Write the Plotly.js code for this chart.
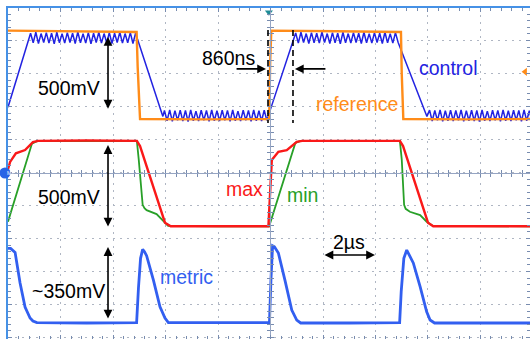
<!DOCTYPE html>
<html><head><meta charset="utf-8">
<script src="https://cdn.plot.ly/plotly-3.0.1.min.js"></script>
<style>html,body{margin:0;padding:0;background:#fff}#chart{width:530px;height:339px}</style>
</head><body><div id="chart"></div>
<script>
// time in microseconds (2 us / division), value in divisions
const controlT = [0, 0.76,
 0.86,0.96,1.06,1.16,1.26,1.36,1.46,1.56,1.66,1.76,1.86,1.96,2.06,2.16,2.26,2.36,2.46,2.56,2.66,2.76,
 2.86,2.96,3.06,3.16,3.26,3.36,3.46,3.56,3.66,3.76,3.86,3.96,4.06,4.16,4.26,4.36,4.46,4.56,4.66,4.76,4.86,
 5.90,
 5.96,6.06,6.16,6.26,6.36,6.46,6.56,6.66,6.76,6.86,6.96,7.06,7.16,7.26,7.36,7.46,7.56,7.66,7.76,7.86,
 7.96,8.06,8.16,8.26,8.36,8.46,8.56,8.66,8.76,8.86,8.96,9.06,9.16,9.26,9.36,9.46,9.56,9.66,9.76,9.86,
 10.86,
 10.96,11.06,11.16,11.26,11.36,11.46,11.56,11.66,11.76,11.86,11.96,12.06,12.16,12.26,12.36,12.46,12.56,12.66,12.76,12.86,
 12.96,13.06,13.16,13.26,13.36,13.46,13.56,13.66,13.76,13.86,13.96,14.06,14.16,14.26,14.36,14.46,14.56,14.66,14.76,14.86,
 15.96,
 16.06,16.16,16.26,16.36,16.46,16.56,16.66,16.76,16.86,16.96,17.06,17.16,17.26,17.36,17.46,17.56,17.66,17.76,17.86,17.96,
 18.06,18.16,18.26,18.36,18.46,18.56,18.66,18.76,18.86,18.96,19.06,19.16,19.26,19.36,19.46,19.56,19.66,19.76,19.86,19.96];
const controlV = [1.98, 3.93,
 4.22,3.93,4.25,3.91,4.21,3.94,4.24,3.92,4.22,3.90,4.25,3.93,4.21,3.92,4.24,3.94,4.22,3.91,4.26,3.93,
 4.21,3.92,4.24,3.90,4.22,3.94,4.25,3.92,4.21,3.93,4.24,3.91,4.22,3.94,4.25,3.92,4.21,3.93,4.24,3.91,4.22,
 1.70,
 1.88,1.57,1.90,1.55,1.87,1.58,1.89,1.56,1.88,1.54,1.90,1.57,1.86,1.56,1.89,1.58,1.88,1.55,1.90,1.57,
 1.87,1.56,1.89,1.58,1.88,1.55,1.90,1.57,1.86,1.56,1.89,1.58,1.88,1.55,1.90,1.57,1.87,1.56,1.89,1.58,
 3.93,
 4.23,3.92,4.25,3.94,4.21,3.91,4.24,3.93,4.22,3.92,4.26,3.94,4.21,3.91,4.24,3.93,4.22,3.90,4.25,3.93,
 4.21,3.92,4.24,3.94,4.22,3.91,4.25,3.93,4.21,3.92,4.24,3.94,4.22,3.91,4.25,3.93,4.21,3.92,4.24,3.95,
 1.70,
 1.89,1.56,1.88,1.58,1.90,1.55,1.87,1.57,1.89,1.56,1.88,1.58,1.90,1.55,1.87,1.57,1.89,1.56,1.88,1.54,
 1.90,1.57,1.86,1.56,1.89,1.58,1.88,1.55,1.90,1.57,1.87,1.56,1.89,1.58,1.88,1.55,1.90,1.57,1.87,1.56];

const referenceT = [0, 2.5, 4.90, 4.94, 5.03, 7.5, 9.95, 9.99, 10.03, 12.5, 14.97, 15.00, 15.06, 17.5, 19.95];
const referenceV = [4.30, 4.28, 4.26, 3.20, 1.62, 1.61, 1.62, 3.40, 4.30, 4.28, 4.26, 3.00, 1.62, 1.61, 1.62];

const maxT = [0, 0.08, 0.3, 0.65, 0.95, 1.15, 3.0, 4.91, 5.03, 5.98, 6.2, 8.0, 9.92, 10.05, 10.3, 10.62, 11.0, 11.2, 13.0, 14.93, 15.05, 16.0, 16.2, 18.0, 19.95];
const maxV = [0.10, 0.32, 0.58, 0.68, 0.92, 0.96, 0.97, 0.96, 0.80, -1.52, -1.63, -1.64, -1.63, 0.38, 0.63, 0.68, 0.93, 0.96, 0.97, 0.96, 0.80, -1.52, -1.63, -1.64, -1.63];

const minT = [0, 0.91, 1.1, 3.0, 4.91, 4.98, 5.13, 5.2, 5.28, 5.66, 5.92, 6.1, 8.0, 9.95, 10.95, 11.15, 13.0, 14.93, 15.0, 15.09, 15.15, 15.31, 15.7, 15.95, 16.19, 18.0, 19.95];
const minV = [-1.49, 0.87, 0.95, 0.96, 0.95, 0.40, -0.98, -1.08, -1.14, -1.26, -1.49, -1.62, -1.63, -1.63, 0.90, 0.96, 0.96, 0.95, 0.40, -0.98, -1.10, -1.19, -1.29, -1.49, -1.62, -1.63, -1.63];

const metricT = [0, 0.1, 0.27, 0.46, 0.65, 0.84, 0.95, 1.1, 3.0, 4.90, 4.97, 5.05, 5.13, 5.2, 5.28, 5.54, 5.79, 5.98, 6.11, 8.0,
 9.96, 10.02, 10.08, 10.15, 10.3, 10.55, 10.81, 11.0, 11.15, 13.0, 14.92, 14.98, 15.08, 15.19, 15.28, 15.44, 15.7, 15.95, 16.08, 16.25, 18.0, 19.95];
const metricV = [-2.30, -2.30, -2.42, -3.35, -4.08, -4.41, -4.50, -4.55, -4.56, -4.55, -3.50, -2.60, -2.33, -2.40, -2.52, -3.26, -4.07, -4.41, -4.55, -4.56,
 -4.55, -3.20, -2.22, -2.25, -2.44, -3.26, -4.17, -4.47, -4.56, -4.56, -4.55, -3.60, -2.60, -2.35, -2.50, -2.74, -3.46, -4.22, -4.47, -4.56, -4.56, -4.56];

// labels
const traceLabels = ["control", "reference", "max", "min", "metric"];
const labelT = [16.8, 13.3, 9.01, 11.22, 6.8];
const labelV = [3.17, 2.08, -0.5, -0.68, -3.17];
const amplitudeLabels = ["500mV", "500mV", "~350mV"];
const ampT = [2.32, 2.32, 2.30];
const ampV = [2.56, -0.74, -3.59];
const ampArrowT = 3.81;
const ampArrowTop = [4.11, 0.83, -2.26];
const ampArrowBottom = [1.89, -1.68, -4.47];
const delayLabel = "860ns";
const delayMarkers = [9.905, 10.857];
const scaleLabel = "2µs";
const channelLabel = "M1";

const CONTROL = 'rgb(35,35,225)', REF = 'rgb(255,140,25)', RED = 'rgb(250,25,25)',
      GREEN = 'rgb(40,160,40)', METRIC = 'rgb(50,95,240)';
const FONT = 'Liberation Sans, Arial, sans-serif';

const XR = [0, 19.886], YR = [-5.045, 4.985];
const grid = 'rgb(175,182,195)', tickc = 'rgb(120,140,175)', border = 'rgb(70,145,230)';

const traces = [
 {x: controlT, y: controlV, mode: 'lines', line: {color: CONTROL, width: 1.5}},
 {x: referenceT, y: referenceV, mode: 'lines', line: {color: REF, width: 2.4}},
 {x: minT, y: minV, mode: 'lines', line: {color: GREEN, width: 1.8}},
 {x: maxT, y: maxV, mode: 'lines', line: {color: RED, width: 2.4}},
 {x: metricT, y: metricV, mode: 'lines', line: {color: METRIC, width: 2.8}},
 {x: [9.94], y: [4.86], mode: 'markers', marker: {symbol: 'triangle-down', size: 7, color: 'rgb(30,140,150)'}, cliponaxis: false},
 {x: [19.70], y: [3.05], mode: 'markers', marker: {symbol: 'triangle-left', size: 7, color: REF}, cliponaxis: false},
 {x: [], y: [], xaxis: 'x2', yaxis: 'y2'},
 {x: [], y: [], xaxis: 'x3', yaxis: 'y3'},
 {x: [], y: [], xaxis: 'x4', yaxis: 'y4'}
].map(t => Object.assign({showlegend: false, hoverinfo: 'skip'}, t));

const annotations = [];
traceLabels.forEach((s, i) => annotations.push({x: labelT[i], y: labelV[i], text: s, showarrow: false,
  font: {family: FONT, size: 19.5, color: [CONTROL, REF, RED, GREEN, METRIC][i]}}));
amplitudeLabels.forEach((s, i) => {
  annotations.push({x: ampT[i], y: ampV[i], text: s, showarrow: false, font: {family: FONT, size: 19.5, color: 'black'}});
  annotations.push({x: ampArrowT, y: ampArrowTop[i], ax: ampArrowT, ay: ampArrowBottom[i], axref: 'x', ayref: 'y',
    text: '', showarrow: true, arrowhead: 2, startarrowhead: 2, arrowside: 'end+start', arrowsize: 1.1, arrowwidth: 1.6, arrowcolor: 'black'});
});
annotations.push({x: 8.40, y: 3.47, text: delayLabel, showarrow: false, font: {family: FONT, size: 19.5, color: 'black'}});
annotations.push({x: 9.83, y: 3.14, ax: 8.65, ay: 3.14, axref: 'x', ayref: 'y', text: '', showarrow: true,
  arrowhead: 2, arrowsize: 1.1, arrowwidth: 1.6, arrowcolor: 'black'});
annotations.push({x: 10.93, y: 3.14, ax: 12.15, ay: 3.14, axref: 'x', ayref: 'y', text: '', showarrow: true,
  arrowhead: 2, arrowsize: 1.1, arrowwidth: 1.6, arrowcolor: 'black'});
annotations.push({x: 12.99, y: -2.11, text: scaleLabel, showarrow: false, font: {family: FONT, size: 19.5, color: 'black'}});
annotations.push({x: 13.98, y: -2.5, ax: 12.0, ay: -2.5, axref: 'x', ayref: 'y', text: '', showarrow: true,
  arrowhead: 2, startarrowhead: 2, arrowside: 'end+start', arrowsize: 1.1, arrowwidth: 1.6, arrowcolor: 'black'});
// channel marker label at the left edge
annotations.push({xref: 'paper', yref: 'paper', x: -0.00575, y: 0.5015, text: channelLabel, showarrow: false,
  font: {family: FONT, size: 5, color: 'white'}});

const shapes = delayMarkers.map(t => ({type: 'line', xref: 'x', yref: 'y', x0: t, x1: t, y0: 4.32, y1: 1.50,
  line: {color: 'black', width: 1.6, dash: '6px,4px'}}));
shapes.push({type: 'circle', xref: 'paper', yref: 'paper', xsizemode: 'pixel', ysizemode: 'pixel',
  xanchor: -0.00575, yanchor: 0.5015, x0: -5.5, x1: 5.5, y0: -5.5, y1: 5.5,
  fillcolor: 'rgb(40,100,230)', line: {width: 0}, layer: 'above'});

const base = {range: XR, showticklabels: false, zeroline: false, fixedrange: true};
const layout = {
  width: 530, height: 339,
  margin: {l: 8, r: 0, t: 8, b: 0, pad: 0},
  paper_bgcolor: 'white', plot_bgcolor: 'white',
  showlegend: false,
  xaxis: Object.assign({}, base, {side: 'top', showline: true, linecolor: border, linewidth: 2,
    showgrid: true, gridcolor: grid, griddash: '2px,5px', gridwidth: 1, dtick: 2, tick0: 0,
    ticks: 'inside', ticklen: 4, tickcolor: tickc, minor: {dtick: 0.4, tick0: 0, ticks: 'inside', ticklen: 3, tickcolor: tickc, showgrid: false}}),
  yaxis: {range: YR, showticklabels: false, zeroline: false, fixedrange: true, showline: true, linecolor: border, linewidth: 2,
    showgrid: true, gridcolor: grid, griddash: '2px,5px', gridwidth: 1, dtick: 1, tick0: 0,
    ticks: 'inside', ticklen: 4, tickcolor: tickc, minor: {dtick: 0.2, tick0: 0, ticks: 'inside', ticklen: 3, tickcolor: tickc, showgrid: false}},
  xaxis2: Object.assign({}, base, {overlaying: 'x', anchor: 'free', position: 0.50302, showline: true, linecolor: 'rgb(150,165,195)', linewidth: 1,
    showgrid: false, dtick: 2, tick0: 0, ticks: 'inside', ticklen: 3, tickcolor: tickc, minor: {dtick: 0.4, tick0: 0, ticks: 'inside', ticklen: 3, tickcolor: tickc}}),
  xaxis3: Object.assign({}, base, {overlaying: 'x', anchor: 'free', position: 0.50302, showline: false,
    showgrid: false, dtick: 2, tick0: 0, ticks: 'outside', ticklen: 3, tickcolor: tickc, minor: {dtick: 0.4, tick0: 0, ticks: 'outside', ticklen: 3, tickcolor: tickc}}),
  xaxis4: Object.assign({}, base, {overlaying: 'x', anchor: 'free', position: 0, showline: false,
    showgrid: false, dtick: 2, tick0: 0, ticks: 'inside', ticklen: 4, tickcolor: tickc, minor: {dtick: 0.4, tick0: 0, ticks: 'inside', ticklen: 3, tickcolor: tickc}}),
  yaxis2: {range: YR, overlaying: 'y', anchor: 'free', position: 0.50287, showticklabels: false, zeroline: false, showline: true, linecolor: 'rgb(150,165,195)', linewidth: 1,
    showgrid: false, dtick: 1, tick0: 0, ticks: 'inside', ticklen: 3, tickcolor: tickc, minor: {dtick: 0.2, tick0: 0, ticks: 'inside', ticklen: 3, tickcolor: tickc}},
  yaxis3: {range: YR, overlaying: 'y', anchor: 'free', position: 0.50287, showticklabels: false, zeroline: false, showline: false,
    showgrid: false, dtick: 1, tick0: 0, ticks: 'outside', ticklen: 3, tickcolor: tickc, minor: {dtick: 0.2, tick0: 0, ticks: 'outside', ticklen: 3, tickcolor: tickc}},
  yaxis4: {range: YR, overlaying: 'y', anchor: 'free', position: 1, side: 'right', showticklabels: false, zeroline: false, showline: false,
    showgrid: false, dtick: 1, tick0: 0, ticks: 'inside', ticklen: 4, tickcolor: tickc, minor: {dtick: 0.2, tick0: 0, ticks: 'inside', ticklen: 3, tickcolor: tickc}},
  annotations: annotations,
  shapes: shapes
};
Plotly.newPlot('chart', traces, layout, {displayModeBar: false, staticPlot: true});
</script></body></html>
